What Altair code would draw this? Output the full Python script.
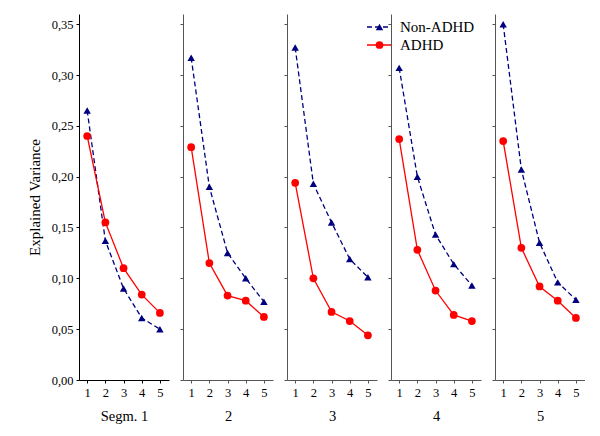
import altair as alt
import pandas as pd

segments = ["Segm. 1", "2", "3", "4", "5"]
components = [1, 2, 3, 4, 5]
groups = ["Non-ADHD", "ADHD"]

non_adhd = [
    [0.265, 0.137, 0.090, 0.061, 0.050],
    [0.317, 0.190, 0.125, 0.100, 0.077],
    [0.327, 0.193, 0.155, 0.119, 0.101],
    [0.307, 0.200, 0.143, 0.114, 0.093],
    [0.350, 0.207, 0.135, 0.096, 0.079],
]
adhd = [
    [0.240, 0.155, 0.110, 0.084, 0.066],
    [0.229, 0.115, 0.083, 0.078, 0.062],
    [0.194, 0.100, 0.067, 0.058, 0.044],
    [0.237, 0.128, 0.088, 0.064, 0.058],
    [0.235, 0.130, 0.092, 0.078, 0.061],
]
y_ticks = [0.0, 0.05, 0.10, 0.15, 0.20, 0.25, 0.30, 0.35]

NAVY = "#00007f"
RED = "#ff0000"
FONT = "Liberation Serif"

W, H = 90, 366


def panel(i):
    rows = []
    for c, v in zip(components, non_adhd[i]):
        rows.append({"comp": c, "val": v, "group": "Non-ADHD"})
    for c, v in zip(components, adhd[i]):
        rows.append({"comp": c, "val": v, "group": "ADHD"})
    df = pd.DataFrame(rows)
    first = i == 0
    axis_color = "#000000" if first else "#555555"
    x = alt.X("comp:Q", scale=alt.Scale(domain=[0.55, 5.5], nice=False, zero=False),
              axis=alt.Axis(values=components, title=segments[i], grid=False,
                            domainColor=axis_color, tickColor=axis_color, tickSize=3,
                            labelFont=FONT, labelFontSize=12.5, labelColor="#000",
                            labelPadding=3, titleFont=FONT, titleFontSize=14.5,
                            titleFontWeight="normal", titleColor="#000", titlePadding=11))
    y = alt.Y("val:Q", scale=alt.Scale(domain=[0, 0.36], nice=False),
              axis=alt.Axis(values=y_ticks, grid=False, labels=first,
                            labelExpr="replace(format(datum.value, '.2f'), '.', ',')",
                            title="Explained Variance" if first else None,
                            domainColor=axis_color, tickColor=axis_color, tickSize=3,
                            labelFont=FONT, labelFontSize=12.5, labelColor="#000",
                            labelPadding=3, titleFont=FONT, titleFontSize=15,
                            titleFontWeight="normal", titleColor="#000", titlePadding=9))
    base = alt.Chart(df)
    na = base.transform_filter(alt.datum.group == "Non-ADHD")
    ad = base.transform_filter(alt.datum.group == "ADHD")
    layers = [
        na.mark_line(color=NAVY, strokeWidth=1.3, strokeDash=[5, 3]).encode(x=x, y=y),
        ad.mark_line(color=RED, strokeWidth=1.3).encode(x=x, y=y),
        na.mark_point(shape="triangle-up", filled=True, color=NAVY, size=55, opacity=1).encode(x=x, y=y),
        ad.mark_point(shape="circle", filled=True, color=RED, size=60, opacity=1).encode(x=x, y=y),
    ]
    if i == 2:
        leg = pd.DataFrame({"label": groups})
        lb = alt.Chart(leg)
        specs = [("Non-ADHD", NAVY, [5, 3], "triangle-up", 55, 13),
                 ("ADHD", RED, [1, 0], "circle", 60, 31)]
        for name, col, dash, shp, sz, yy in specs:
            f = lb.transform_filter(alt.datum.label == name)
            layers.append(f.mark_rule(color=col, strokeWidth=1.3, strokeDash=dash).encode(
                x=alt.value(80), x2=alt.value(105), y=alt.value(yy)))
            layers.append(f.mark_point(shape=shp, filled=True, color=col, size=sz, opacity=1).encode(
                x=alt.value(92.5), y=alt.value(yy)))
            layers.append(f.mark_text(align="left", baseline="middle", font=FONT, fontSize=15,
                                      color="#000").encode(
                x=alt.value(113), y=alt.value(yy), text="label:N"))
    return alt.layer(*layers).properties(
        width=W, height=H, view=alt.ViewBackground(stroke="transparent", strokeWidth=0)
    )


chart = alt.hconcat(*[panel(i) for i in range(5)], spacing=14, bounds="flush").properties(
    padding={"left": 19, "top": 6, "right": 0, "bottom": 4}
).configure_view(strokeWidth=0, stroke="transparent").configure(
    background="white", font=FONT
)

chart.save("out.html", embed_options={"renderer": "svg", "actions": False})
